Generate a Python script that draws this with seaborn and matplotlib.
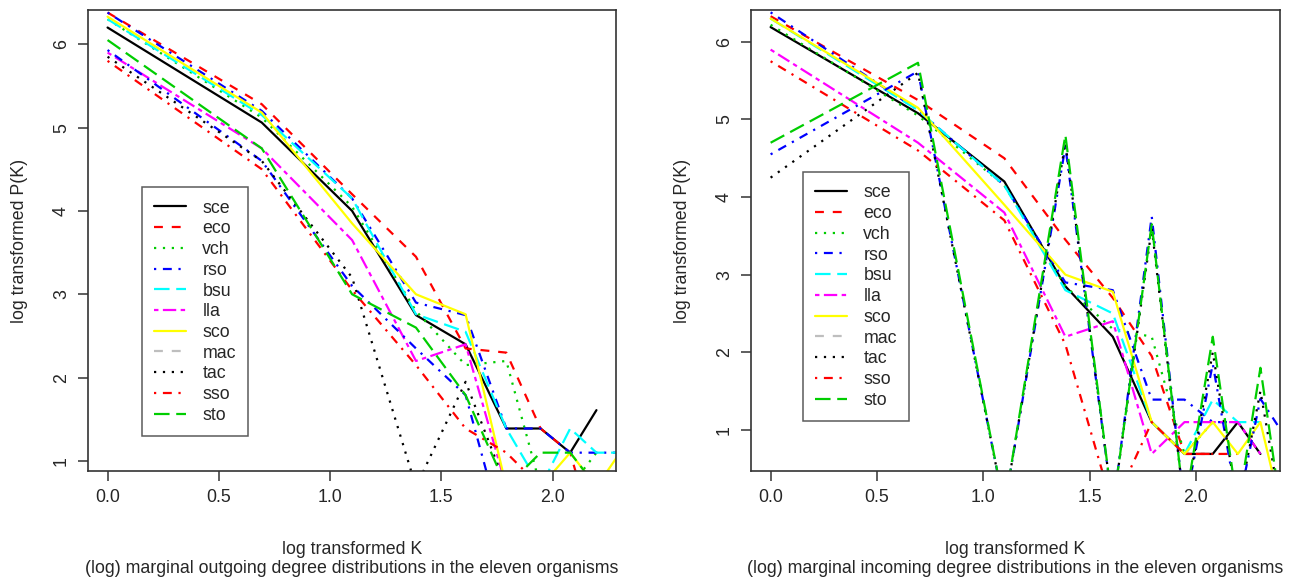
import matplotlib
matplotlib.use("Agg")
import matplotlib.pyplot as plt
from matplotlib.lines import Line2D
import seaborn as sns

# organisms in legend order
organisms = ["sce", "eco", "vch", "rso", "bsu", "lla", "sco", "mac", "tac", "sso", "sto"]

# x positions: log of degree K = 1..11
log_k = [0.0, 0.693, 1.099, 1.386, 1.609, 1.792, 1.946, 2.079, 2.197, 2.303, 2.398]

# log P(K), outgoing degree (left panel)
sce_out = [6.20, 5.06, 4.00, 2.75, 2.40, 1.39, 1.39, 1.10, 1.61]
eco_out = [6.38, 5.28, 4.20, 3.45, 2.35, 2.30, 1.39, 1.10, 0.00]
vch_out = [6.30, 5.12, 4.05, 2.80, 2.15, 2.20, 0.69, 0.69, 1.10]
rso_out = [6.38, 5.20, 4.15, 2.90, 2.75, 1.39, 1.39, 1.10, 1.10, 1.10]
bsu_out = [6.30, 5.15, 4.15, 2.76, 2.55, 1.39, 0.69, 1.39, 1.10, 1.10]
lla_out = [5.90, 4.75, 3.65, 2.20, 2.40, 0.69, 0.69]
sco_out = [6.33, 5.18, 3.85, 3.00, 2.76, 0.69, 0.69, 1.10, 0.69, 1.10]
mac_out = [5.93, 4.60, 3.10, 2.35, 1.79, 0.00]
tac_out = [5.85, 4.60, 3.20, 0.69, 1.95, 0.69]
sso_out = [5.80, 4.50, 3.05, 2.15, 1.39, 1.10, 0.69]
sto_out = [6.05, 4.75, 3.00, 2.60, 1.79, 0.69, 1.10, 1.10, 0.69]

# log P(K), incoming degree (right panel)
sce_in = [6.19, 5.08, 4.20, 2.85, 2.20, 1.10, 0.69, 0.69, 1.10, 0.69]
eco_in = [6.33, 5.25, 4.50, 3.45, 2.70, 1.95, 0.69, 0.69, 0.69]
vch_in = [6.22, 5.05, 4.15, 2.85, 2.30, 2.20, 0.69, 1.10]
rso_in = [6.38, 5.12, 4.15, 2.90, 2.80, 1.39, 1.39, 1.10, 1.10]
bsu_in = [6.30, 5.12, 4.15, 2.80, 2.50, 1.10, 0.69, 1.39, 1.10, 1.10]
lla_in = [5.90, 4.70, 3.80, 2.20, 2.40, 0.69, 1.10, 1.10, 1.10, 0.69]
sco_in = [6.30, 5.15, 3.90, 3.00, 2.78, 1.10, 0.69, 1.10, 0.69, 1.10, 0.00]
mac_in = [4.55, 5.62, 0.00, 4.65, 0.00, 3.75, 0.00, 1.85, 0.00, 1.40, 1.00]
tac_in = [4.25, 5.60, 0.00, 4.70, 0.00, 3.60, 0.00, 2.00, 0.00, 1.50, 0.00]
sso_in = [5.75, 4.60, 3.70, 2.10, 0.00, 1.10, 0.69, 0.69]
sto_in = [4.70, 5.73, 0.00, 4.80, 0.00, 3.65, 0.00, 2.20, 0.00, 1.80, 0.00]

out_series = [sce_out, eco_out, vch_out, rso_out, bsu_out, lla_out,
              sco_out, mac_out, tac_out, sso_out, sto_out]
in_series = [sce_in, eco_in, vch_in, rso_in, bsu_in, lla_in,
             sco_in, mac_in, tac_in, sso_in, sto_in]

# R style line types
solid = "-"
dashed = (0, (4, 4))
dotted = (0, (1, 3))
dotdash = (0, (1, 3, 4, 3))
longdash = (0, (7, 3))
twodash = (0, (2, 2, 6, 2))

legend_colors = ["black", "#FF0000", "#00CD00", "#0000FF", "#00FFFF", "#FF00FF",
                 "#FFFF00", "#BEBEBE", "black", "#FF0000", "#00CD00"]
legend_styles = [solid, dashed, dotted, dotdash, longdash, twodash,
                 solid, dashed, dotted, dotdash, longdash]
# in the drawing, the mac curve shows up blue dot-dash
line_colors = legend_colors[:7] + ["#0000FF"] + legend_colors[8:]
line_styles = legend_styles[:7] + [dotdash] + legend_styles[8:]

sns.set_style("ticks")
plt.rcParams["font.family"] = ["Liberation Sans", "DejaVu Sans"]

fig = plt.figure(figsize=(12.92, 5.83), dpi=100)
ax1 = fig.add_axes([0.0681, 0.1921, 0.4087, 0.7907])
ax2 = fig.add_axes([0.5813, 0.1921, 0.4094, 0.7907])

panels = [
    (ax1, out_series, (-0.088, 2.285), (0.88, 6.41),
     "(log) marginal outgoing degree distributions in the eleven organisms",
     (0.1099, 0.679)),
    (ax2, in_series, (-0.092, 2.395), (0.47, 6.41),
     "(log) marginal incoming degree distributions in the eleven organisms",
     (0.6215, 0.705)),
]

fs = 12.8
lw = 1.6
for ax, series, xlim, ylim, subtitle, leg_pos in panels:
    for name, vals, col, ls in zip(organisms, series, line_colors, line_styles):
        sns.lineplot(x=log_k[:len(vals)], y=vals, ax=ax, color=col,
                     linestyle=ls, linewidth=lw, sort=False, estimator=None)
    ax.set_xlim(*xlim)
    ax.set_ylim(*ylim)
    ax.set_xticks([0.0, 0.5, 1.0, 1.5, 2.0])
    ax.set_xticklabels(["0.0", "0.5", "1.0", "1.5", "2.0"])
    ax.set_yticks([1, 2, 3, 4, 5, 6])
    ax.set_yticklabels(["1", "2", "3", "4", "5", "6"], rotation=90, va="center")
    ax.tick_params(direction="out", length=7, width=1.1, labelsize=fs,
                   color="#333333", pad=6)
    for sp in ax.spines.values():
        sp.set_visible(True)
        sp.set_color("#333333")
        sp.set_linewidth(1.2)
    ax.set_xlabel("log transformed K\n" + subtitle, fontsize=fs, labelpad=25,
                  linespacing=1.15)
    ax.set_ylabel("log transformed P(K)", fontsize=fs, labelpad=18)

    handles = [Line2D([], [], color=c, linestyle=s, linewidth=lw)
               for c, s in zip(legend_colors, legend_styles)]
    leg = ax.legend(handles, organisms, loc="upper left",
                    bbox_to_anchor=leg_pos, bbox_transform=fig.transFigure,
                    fontsize=fs, frameon=True, fancybox=False,
                    handlelength=1.8, handletextpad=0.9, labelspacing=0.21,
                    borderpad=0.7, borderaxespad=0)
    leg.get_frame().set_edgecolor("#333333")
    leg.get_frame().set_linewidth(1.1)

fig.savefig("out.png", dpi=100)
